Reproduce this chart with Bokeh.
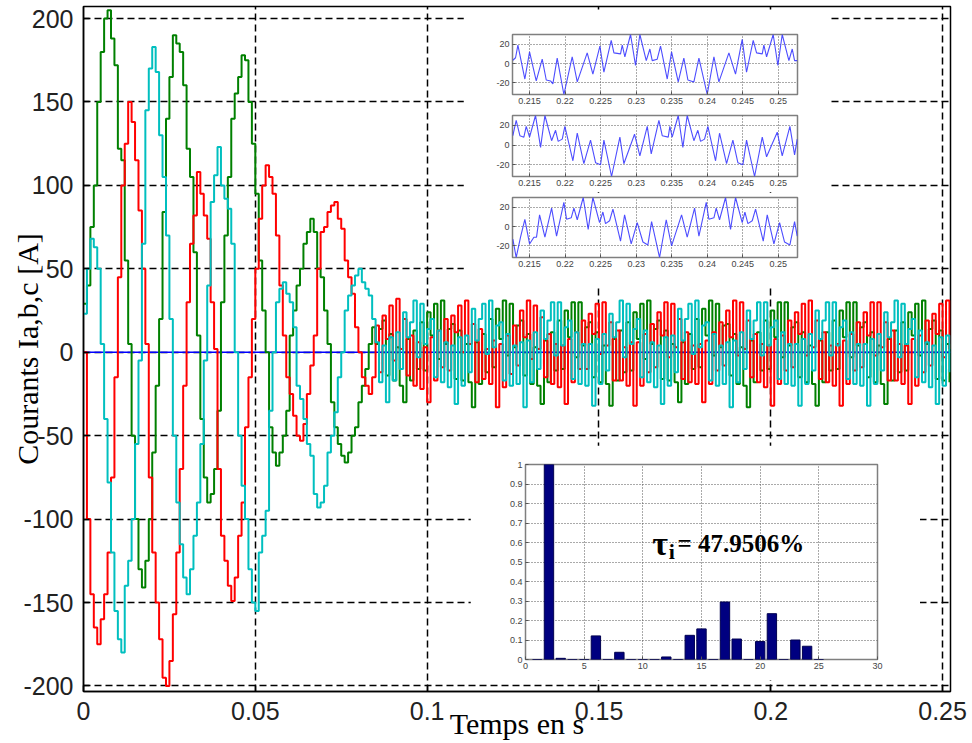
import math
from bokeh.plotting import figure
from bokeh.models import Range1d, FixedTicker, Label
from bokeh.layouts import column
from bokeh.embed import file_html
from bokeh.resources import INLINE

# ---------------- main chart data (sampled every 1 ms, 0 .. 0.252 s) ----------------
t_ms = list(range(253))
time_s = [k / 1000 for k in t_ms]

i_a_red = [
    0, -100, -145, -165, -175, -160, -145, -120, -75, -15,
    45, 100, 125, 150, 138, 115, 85, 50, 5, -75,
    -120, -150, -172, -195, -200, -185, -157, -120, -70, -20,
    30, 65, 82, 108, 95, 82, 68, 30, 2, -70,
    -110, -125, -140, -149, -135, -110, -90, -45, -15, 20,
    50, 80, 100, 112, 105, 95, 70, 40, 10, -15,
    -25, -38, -50, -53, -43, -25, -8, 10, 50, 72,
    75, 84, 88, 90, 80, 74, 55, 45, 35, 15,
    0, -15, -20, -25, -15,
    16, -12, 22, 8, 28, -5, 32, 2,
    20, -14, 10, -20, 6, -22, 3, -30, 9, -17, 13, -9, 20, -11, 22, 12, 28, 0, 31, 5,
    17, -18, 14, -16, 2, -19, 7, -33, 5, -21, 10, -13, 16, -8, 25, 9, 31, -4, 28, 2,
    21, -15, 11, -19, 5, -21, 4, -31, 8, -18, 12, -10, 19, -10, 23, 11, 29, -1, 30, 4,
    18, -17, 13, -17, 3, -20, 6, -32, 6, -20, 11, -12, 17, -9, 24, 10, 30, -3, 29, 3,
    20, -16, 12, -18, 4, -19, 5, -30, 7, -19, 12, -11, 18, -8, 25, 9, 31, -2, 30, 2,
    19, -15, 11, -18, 5, -21, 4, -32, 8, -19, 10, -11, 19, -9, 24, 11, 29, -2, 31, 3,
    19, -16, 12, -18, 4, -20, 5, -32, 7, -19, 11, -11, 18, -9, 24, 10, 30, -2, 30, 3,
    18, -17, 13, -17, 5, -19, 4, -31, 8, -20, 10, -12, 19, -8, 23, 11, 29, -3, 31, 2,
]

i_b_green = [
    29, 40, 75, 100, 150, 180, 200, 205, 188, 172,
    122, 115, 55, 5, -50, -100, -130, -141, -125, -100,
    -60, -20, 20, 84, 140, 165, 190, 185, 180, 160,
    122, 105, 60, 10, -40, -75, -90, -85, -70, -35,
    30, 70, 105, 140, 155, 165, 178, 175, 150, 125,
    95, 55, 25, 0, -45, -60, -68, -60, -50, -35,
    10, 25, 40, 50, 65, 72, 80, 72, 50, 45,
    25, 5, -30, -45, -55, -62, -66, -60, -50, -45,
    -30, -20, -10, 5, 15,
    5, 14, 19, -14, 11, -17, 3, -20,
    -30, 8, -17, 13, -10, 18, -11, 24, 10, 29, -4, 31, 5, 14, 17, -16, 13, -17, 5, -18,
    -33, 6, -19, 11, -12, 20, -9, 26, 8, 31, -2, 29, 3, 16, 19, -14, 11, -19, 3, -20,
    -31, 7, -18, 12, -11, 19, -10, 25, 9, 30, -3, 30, 4, 15, 18, -15, 12, -18, 4, -19,
    -32, 8, -17, 13, -12, 18, -11, 24, 8, 29, -4, 31, 5, 14, 19, -16, 13, -17, 5, -18,
    -30, 6, -19, 11, -10, 20, -9, 26, 10, 31, -2, 29, 3, 16, 17, -14, 11, -19, 3, -20,
    -33, 7, -18, 12, -11, 19, -10, 25, 9, 30, -3, 30, 4, 15, 18, -15, 12, -18, 4, -19,
    -32, 7, -18, 12, -11, 19, -10, 25, 9, 30, -3, 30, 4, 15, 18, -15, 12, -18, 4, -19,
    -31, 8, -17, 13, -12, 18, -11, 24, 10, 29, -2, 31, 5, 14, 19, -16, 13, -17, 5, -18,
]

i_c_cyan = [
    23, 50, 68, 63, 50, 5, -40, -78, -120, -155,
    -172, -180, -140, -125, -100, -55, -5, 65, 145, 170,
    183, 168, 130, 105, 70, 20, -50, -90, -115, -135,
    -145, -130, -110, -90, -55, -5, 40, 90, 106, 123,
    100, 92, 86, 65, 0, -50, -80, -100, -130, -150,
    -155, -120, -110, -95, -35, 0, 30, 38, 42, 35,
    30, 15, -20, -28, -40, -55, -62, -85, -93, -90,
    -80, -60, -50, -36, -15, 0, 25, 34, 40, 46,
    50, 42, 38, 34, 20,
    6, -18, 4, -30, 9, -17, 12, -10,
    24, 9, 18, 31, -3, 29, 5, 14, 20, -15, 13, -18, 6, -21, 4, -31, 9, -20, 10, -12,
    26, 7, 20, 29, -1, 31, 3, 16, 18, -17, 11, -20, 4, -19, 6, -33, 7, -18, 12, -10,
    25, 8, 19, 30, -2, 30, 4, 15, 19, -16, 12, -19, 5, -20, 5, -32, 8, -19, 11, -11,
    23, 9, 18, 31, -3, 29, 5, 14, 20, -15, 13, -18, 6, -21, 4, -31, 9, -20, 10, -12,
    26, 7, 20, 29, -1, 31, 3, 16, 18, -17, 11, -20, 4, -19, 6, -33, 7, -18, 12, -10,
    25, 8, 19, 30, -2, 30, 4, 15, 19, -16, 12, -19, 5, -20, 5, -32, 8, -19, 11, -11,
    25, 8, 19, 30, -2, 30, 4, 15, 19, -16, 12, -19, 5, -20, 5, -32, 8, -19, 11, -11,
    24, 9, 18, 31, -3, 29, 5, 14, 20, -15, 13, -18, 6, -21, 4, -31, 9, -20, 10, -12,
]

blue_t = [0.0, 0.2523]
blue_i = [0.0, 0.0]

x_ticks = [0, 0.05, 0.1, 0.15, 0.2, 0.25]
x_tick_labels = ["0", "0.05", "0.1", "0.15", "0.2", "0.25"]
y_ticks = [-200, -150, -100, -50, 0, 50, 100, 150, 200]
y_tick_labels = ["-200", "-150", "-100", "-50", "0", "50", "100", "150", "200"]

# ---------------- zoom insets (steady state, 0.2126 .. 0.2527 s) ----------------
ins1_t = [0.21265, 0.21303, 0.21336, 0.21434, 0.21500, 0.21594, 0.21678, 0.21735, 0.21795, 0.21828,
          0.21889, 0.21983, 0.22100, 0.22171, 0.22311, 0.22391, 0.22490, 0.22546, 0.22649, 0.22687,
          0.22780, 0.22804, 0.22841, 0.22921, 0.22991, 0.23052, 0.23142, 0.23193, 0.23226, 0.23296,
          0.23343, 0.23437, 0.23498, 0.23592, 0.23671, 0.23728, 0.23812, 0.23883, 0.24000, 0.24094,
          0.24164, 0.24305, 0.24398, 0.24492, 0.24553, 0.24647, 0.24694, 0.24774, 0.24797, 0.24835,
          0.24928, 0.24994, 0.25055, 0.25149, 0.25196, 0.25229, 0.25266]
ins1_v = [3.4, 6, 19, -16, 12, -18, 4.5, -17, -18, -21,
          5.5, -32, 7, -19, 11, -11, 18, -9, 24, 11,
          10, 19, 7, 30, -2, 30, 3, 15, 3, 4.5,
          18, -16, 12, -19, 5.5, -17, -19, 5.5, -32, 7,
          -19, 11, -11, 25, -9, 24, 11, 10, 19, 7,
          30, -2, 30, 3, 15, 3, 3]

ins2_t = [0.21265, 0.21312, 0.21364, 0.21420, 0.21453, 0.21500, 0.21584, 0.21655, 0.21716, 0.21810,
          0.21866, 0.21903, 0.21960, 0.21997, 0.22110, 0.22171, 0.22264, 0.22358, 0.22429, 0.22499,
          0.22546, 0.22654, 0.22771, 0.22827, 0.22977, 0.23052, 0.23156, 0.23212, 0.23320, 0.23367,
          0.23451, 0.23474, 0.23507, 0.23592, 0.23657, 0.23718, 0.23812, 0.23868, 0.23906, 0.23962,
          0.24009, 0.24117, 0.24173, 0.24272, 0.24361, 0.24431, 0.24502, 0.24553, 0.24666, 0.24774,
          0.24835, 0.24985, 0.25055, 0.25163, 0.25229, 0.25266]
ins2_v = [9.5, 25, 9.5, 8, 19, 8, 30, -2.4, 30, 4.4,
          15, 3.7, 6, 19, -16, 12, -19, 5, -18, -20,
          5, -32, 8, -19, 11, -11, 19, -9, 25, 9.5,
          8, 19, 8, 30, -2.4, 30, 4.4, 15, 3.7, 6,
          19, -16, 12, -19, 5, -18, -20, 5, -32, 8,
          -12, 13, -11, 19, -10, 6]

ins3_t = [0.21265, 0.21312, 0.21373, 0.21434, 0.21500, 0.21561, 0.21598, 0.21641, 0.21716, 0.21810,
          0.21880, 0.21983, 0.22021, 0.22086, 0.22124, 0.22171, 0.22255, 0.22325, 0.22391, 0.22485,
          0.22532, 0.22569, 0.22626, 0.22673, 0.22780, 0.22837, 0.22930, 0.23015, 0.23095, 0.23165,
          0.23217, 0.23329, 0.23423, 0.23498, 0.23639, 0.23718, 0.23822, 0.23883, 0.23986, 0.24023,
          0.24094, 0.24126, 0.24173, 0.24258, 0.24328, 0.24398, 0.24492, 0.24530, 0.24572, 0.24633,
          0.24680, 0.24788, 0.24844, 0.24938, 0.25018, 0.25088, 0.25163, 0.25229, 0.25266]
ins3_v = [-13, -32, -11, 7.5, -18, -11, -11, 12, -11, 19,
          -10, 25, 7.5, 9, 19, 7, 30, -3, 30, 4,
          15, 3, 6, 18, -15, 12, -18, 4, -16, -19,
          5, -32, 7, -20, 12, -11, 19, -10, 25, 7.5,
          9, 19, 7, 30, -3, 30, 4, 15, 3, 6,
          18, -15, 12, -18, 4, -16, -19, 5, -10]

ins_x_ticks = [0.215, 0.22, 0.225, 0.23, 0.235, 0.24, 0.245, 0.25]
ins_x_labels = ["0.215", "0.22", "0.225", "0.23", "0.235", "0.24", "0.245", "0.25"]
ins_y_ticks = [-20, 0, 20]
ins_y_labels = ["-20", "0", "20"]

# ---------------- harmonic spectrum inset ----------------
harm_order = list(range(1, 26))
harm_mag = [0, 1.0, 0.006, 0, 0, 0.121, 0, 0.037, 0, 0,
            0, 0.013, 0, 0.124, 0.157, 0, 0.295, 0.105, 0, 0.092,
            0.235, 0, 0.100, 0.068, 0]
thd_text = "= 47.9506%"
hist_x_ticks = [0, 5, 10, 15, 20, 25, 30]
hist_y_ticks = [0, 0.1, 0.2, 0.3, 0.4, 0.5, 0.6, 0.7, 0.8, 0.9, 1]
hist_y_labels = ["0", "0.1", "0.2", "0.3", "0.4", "0.5", "0.6", "0.7", "0.8", "0.9", "1"]

SANS = "Liberation Sans"
SERIF = "Liberation Serif"

# ================= main figure =================
p = figure(frame_width=867, frame_height=685, output_backend="svg", toolbar_location=None,
           x_range=Range1d(0, 0.2523), y_range=Range1d(-203.3, 207.2),
           min_border_left=83, min_border_right=22, min_border_top=6, min_border_bottom=52,
           background_fill_color="white", border_fill_color="white", frame_align=False)
p.outline_line_color = "black"
p.outline_line_width = 1.5

p.xaxis.ticker = FixedTicker(ticks=x_ticks)
p.xaxis.major_label_overrides = {v: s for v, s in zip(x_ticks, x_tick_labels)}
p.yaxis.ticker = FixedTicker(ticks=y_ticks)
p.yaxis.major_label_overrides = {v: s for v, s in zip(y_ticks, y_tick_labels)}
for ax in (p.xaxis[0], p.yaxis[0]):
    ax.axis_line_color = "black"
    ax.axis_line_width = 1.5
    ax.major_tick_in = 6
    ax.major_tick_out = 0
    ax.major_tick_line_color = "black"
    ax.major_tick_line_width = 1.5
    ax.minor_tick_line_color = None
    ax.major_label_text_font = SANS
    ax.major_label_text_font_size = "25px"
    ax.major_label_text_color = "#222222"
    ax.major_label_standoff = 10
    ax.axis_label_text_font = SERIF
    ax.axis_label_text_font_size = "30px"
    ax.axis_label_text_font_style = "normal"
    ax.axis_label_text_color = "black"

p.xaxis.axis_label = "Temps en s"
p.xaxis.axis_label_standoff = -16
p.yaxis.axis_label = "Courants Ia,b,c [A]"
p.yaxis.axis_label_standoff = -24

p.xgrid.ticker = FixedTicker(ticks=x_ticks)
p.ygrid.ticker = FixedTicker(ticks=y_ticks)
for g in (p.xgrid[0], p.ygrid[0]):
    g.grid_line_color = "black"
    g.grid_line_dash = "7 4"
    g.grid_line_width = 1.5

p.line(blue_t, blue_i, color="#0000ff", line_width=1.6)
p.step(time_s, i_b_green, mode="after", color="#008000", line_width=2)
p.step(time_s, i_a_red, mode="after", color="#ff0000", line_width=2)
p.step(time_s, i_c_cyan, mode="after", color="#00bfbf", line_width=2)


# ================= insets =================
def small_axes(f, xt, yt, xlabels, ylabels):
    f.outline_line_color = "#7f7f7f"
    f.outline_line_width = 1.5
    f.xaxis.ticker = FixedTicker(ticks=xt)
    f.yaxis.ticker = FixedTicker(ticks=yt)
    f.xaxis.major_label_overrides = {v: s for v, s in zip(xt, xlabels)}
    f.yaxis.major_label_overrides = {v: s for v, s in zip(yt, ylabels)}
    for ax in (f.xaxis[0], f.yaxis[0]):
        ax.axis_line_color = None
        ax.major_tick_in = 3
        ax.major_tick_out = 0
        ax.major_tick_line_color = "#555555"
        ax.minor_tick_line_color = None
        ax.major_label_text_font = SANS
        ax.major_label_text_font_size = "9px"
        ax.major_label_text_color = "#444444"
        ax.major_label_standoff = 3
    f.xgrid.ticker = FixedTicker(ticks=xt)
    f.ygrid.ticker = FixedTicker(ticks=yt)
    for g in (f.xgrid[0], f.ygrid[0]):
        g.grid_line_color = "#555555"
        g.grid_line_dash = "1 2"
        g.grid_line_width = 1


def make_inset(top, fh, b_top, b_bottom, tt, vv):
    f = figure(frame_width=285, frame_height=fh, output_backend="svg", toolbar_location=None,
               x_range=Range1d(0.2126, 0.2527), y_range=Range1d(-32, 30),
               min_border_left=49, min_border_right=33, min_border_top=b_top,
               min_border_bottom=b_bottom, background_fill_color="white",
               border_fill_color="white", frame_align=False,
               styles={"position": "absolute", "left": "463px", "top": f"{top}px"})
    small_axes(f, ins_x_ticks, ins_y_ticks, ins_x_labels, ins_y_labels)
    f.line(tt, vv, color="#3a3aff", line_width=1.1, line_alpha=0.9)
    return f


in1 = make_inset(10, 60, 24, 16, ins1_t, ins1_v)
in2 = make_inset(110, 61, 5, 16, ins2_t, ins2_v)
in3 = make_inset(192, 60, 5, 28, ins3_t, ins3_v)

hist = figure(frame_width=352, frame_height=195, output_backend="svg", toolbar_location=None,
              x_range=Range1d(0, 30), y_range=Range1d(0, 1),
              min_border_left=55, min_border_right=43, min_border_top=19, min_border_bottom=21,
              background_fill_color="white", border_fill_color="white", frame_align=False,
              styles={"position": "absolute", "left": "470px", "top": "445px"})
small_axes(hist, hist_x_ticks, hist_y_ticks, [str(v) for v in hist_x_ticks], hist_y_labels)
hist.vbar(x=harm_order, top=harm_mag, width=0.8, bottom=0,
          fill_color="#000080", line_color="#000050", line_width=1)
hist.add_layout(Label(x=10.8, y=0.595, text="τ", text_font=SERIF, text_font_style="bold",
                      text_font_size="34px", text_color="black", text_baseline="alphabetic"))
hist.add_layout(Label(x=12.2, y=0.555, text="i", text_font=SERIF, text_font_style="bold",
                      text_font_size="22px", text_color="black", text_baseline="alphabetic"))
hist.add_layout(Label(x=12.95, y=0.595, text=thd_text, text_font=SERIF, text_font_style="bold",
                      text_font_size="25px", text_color="black", text_baseline="alphabetic"))

layout = column(p, in1, in2, in3, hist, styles={"position": "relative"})

open("out.html", "w").write(file_html(layout, INLINE))
